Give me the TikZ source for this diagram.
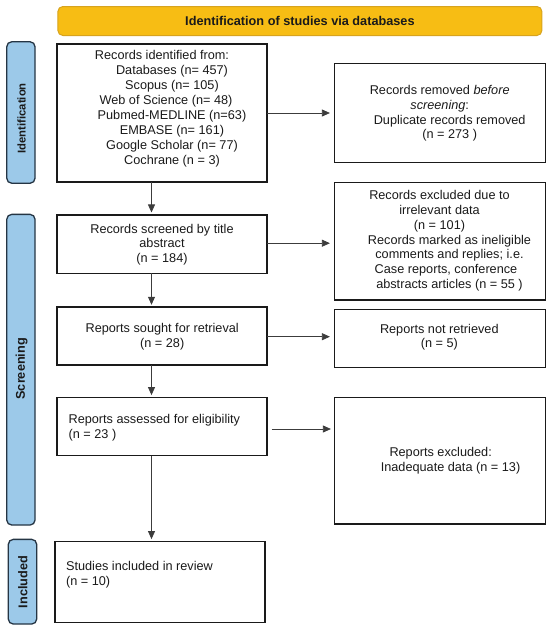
\documentclass[tikz,border=0pt]{standalone}
\usepackage{fontspec}
\setmainfont{Liberation Sans}
\usetikzlibrary{arrows.meta}
\definecolor{barfill}{HTML}{F7BD14}
\definecolor{bardraw}{HTML}{D7A31E}
\definecolor{sidefill}{HTML}{9CC9E9}
\definecolor{sidedraw}{HTML}{253544}
\definecolor{ink}{HTML}{1A1A1A}
\begin{document}
\begin{tikzpicture}[x=1pt,y=-1pt,
  bar/.style={draw=bardraw, fill=barfill, line width=1pt, rounded corners=5pt, inner sep=0pt, outer sep=0pt,
    font=\bfseries\fontsize{12.7}{15}\selectfont, text=ink},
  side/.style={draw=sidedraw, fill=sidefill, line width=1.3pt, rounded corners=5pt, inner sep=0pt, outer sep=0pt},
  sidelabel/.style={font=\bfseries\fontsize{12.7}{15}\selectfont, rotate=90, text=ink, inner sep=0pt},
  box/.style={draw=ink, line width=1.4pt, inner sep=0pt, outer sep=0pt},
  txt/.style={font=\fontsize{12.7}{14.9}\selectfont, text=ink, inner sep=0pt, align=center},
  ltxt/.style={txt, align=left, anchor=west},
  arr/.style={draw=ink!85, line width=0.8pt, -{Triangle[length=8pt,width=7pt]}}
]
\useasboundingbox (0,0) rectangle (550,632);

% header bar
\node[bar, minimum width=484pt, minimum height=29pt] (bar) at (299.9,21) {Identification of studies via databases};

% side bars
\node[side, minimum width=28.3pt, minimum height=141.5pt] (sid) at (20.9,112.5) {};
\node[sidelabel] (lid) at (21.7,118.3) {\fontsize{11.3}{14}\selectfont Identification};
\node[side, minimum width=28.3pt, minimum height=310.7pt] (sscr) at (20.9,369.7) {};
\node[sidelabel] (lscr) at (21.7,368.8) {Screening};
\node[side, minimum width=28.4pt, minimum height=84.7pt] (sinc) at (22.5,581.7) {};
\node[sidelabel] (linc) at (22.8,582) {Included};

% boxes
\node[box, minimum width=210pt, minimum height=138pt] (b1) at (162,113) {};
\node[box, minimum width=211pt, minimum height=99.4pt] (rem) at (439.9,113) {};
\node[box, minimum width=210pt, minimum height=58.3pt] (b2) at (162,244.2) {};
\node[box, minimum width=211pt, minimum height=117.3pt] (excl) at (439.9,241.3) {};
\node[box, minimum width=210pt, minimum height=58pt] (b3) at (162,336) {};
\node[box, minimum width=211pt, minimum height=58pt] (nr) at (439.9,338.3) {};
\node[box, minimum width=210pt, minimum height=58pt] (b4) at (162,426.7) {};
\node[box, minimum width=211pt, minimum height=126.7pt] (rex) at (439.9,460.7) {};
\node[box, minimum width=209.8pt, minimum height=80.6pt] (b5) at (159.9,582) {};

% texts
\node[txt] (t1) at (162,108.8) {Records identified from:\\
\hspace*{20pt}Databases (n= 457)\\
\hspace*{20pt}Scopus (n= 105)\\
\hspace*{8pt}Web of Science (n= 48)\\
\hspace*{20pt}Pubmed-MEDLINE (n=63)\\
\hspace*{20pt}EMBASE (n= 161)\\
\hspace*{20pt}Google Scholar (n= 77)\\
\hspace*{20pt}Cochrane (n = 3)};
\node[txt] (trem) at (439.7,113.3) {Records removed \textit{before}\\
\textit{screening}:\hspace*{6pt}\\
\hspace*{20pt}Duplicate records removed\\
\hspace*{20pt}(n = 273 )};
\node[txt] (texcl) at (439.5,240.8) {Records excluded due to\\
irrelevant data\\
(n = 101)\\
\hspace*{20pt}Records marked as ineligible\\
\hspace*{20pt}comments and replies; i.e.\\
\hspace*{13pt}Case reports, conference\\
\hspace*{20pt}abstracts articles (n = 55 )};
\node[txt] (t2) at (162,244.7) {Records screened by title\\abstract\\(n = 184)};
\node[txt] (t3) at (162.2,337) {Reports sought for retrieval\\(n = 28)};
\node[txt] (tnr) at (439.3,337.2) {Reports not retrieved\\(n = 5)};
\node[ltxt] (t4) at (68.4,427.5) {Reports assessed for eligibility\\(n = 23 )};
\node[ltxt] (trex) at (380.6,460.8) {\hspace*{8.7pt}Reports excluded:\\Inadequate data (n = 13)};
\node[ltxt] (t5) at (65.9,575) {Studies included in review\\(n = 10)};

% connectors
\coordinate (ax) at (151.5,0);
\draw[arr, shorten >=4.5pt] (b1.east) -- (b1.east -| rem.west);
\draw[arr, shorten >=4.5pt] ([yshift=1pt]b2.east) -- ([yshift=1pt]b2.east -| excl.west);
\draw[arr, shorten >=4.5pt] ([yshift=-0.7pt]b3.east) -- ([yshift=-0.7pt]b3.east -| nr.west);
\draw[arr, shorten <=4.5pt, shorten >=3.5pt] ([yshift=-2.3pt]b4.east) -- ([yshift=-2.3pt]b4.east -| rex.west);
\draw[arr, shorten >=2.6pt] (b1.south -| ax) -- (b2.north -| ax);
\draw[arr, shorten >=2.2pt] (b2.south -| ax) -- (b3.north -| ax);
\draw[arr, shorten >=2.6pt] (b3.south -| ax) -- (b4.north -| ax);
\draw[arr, shorten >=2.6pt] (b4.south -| ax) -- (b5.north -| ax);
\end{tikzpicture}
\end{document}
